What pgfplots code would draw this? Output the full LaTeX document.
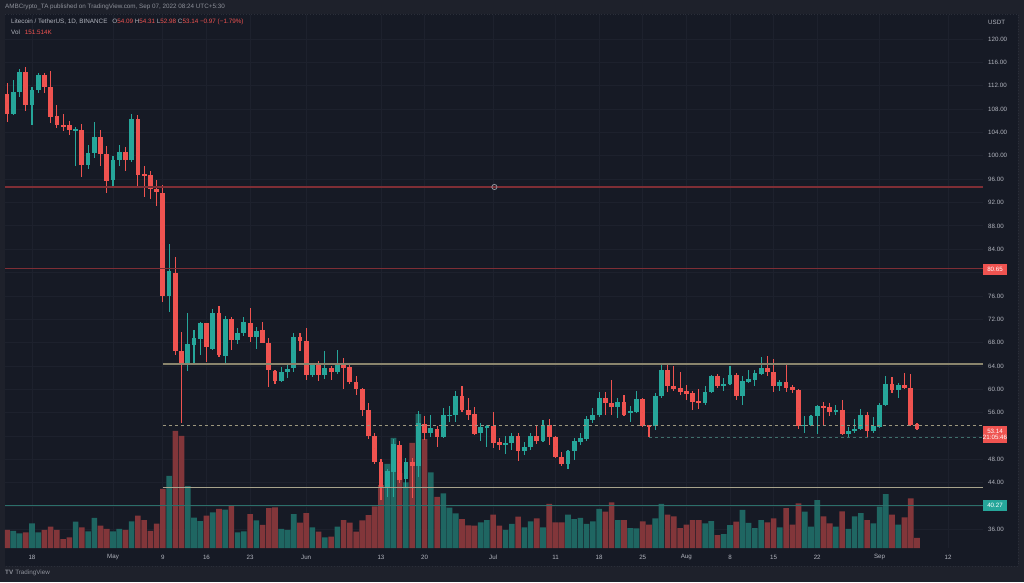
\documentclass[border=0pt]{standalone}
\usepackage{pgfplots}
\pgfplotsset{compat=1.18}
\usepackage{pgfplotstable}
\usepackage{fontspec}
\setmainfont{Liberation Sans}

\definecolor{outer}{HTML}{1E212B}
\definecolor{chartbg}{HTML}{161A25}
\definecolor{gridc}{HTML}{1D212D}
\definecolor{txt}{HTML}{B2B5BE}
\definecolor{txtdim}{HTML}{8E919A}
\definecolor{up}{HTML}{26A69A}
\definecolor{dn}{HTML}{EF5350}
\definecolor{volup}{HTML}{1F6662}
\definecolor{voldn}{HTML}{82363A}
\definecolor{lnred}{HTML}{7E2E35}
\definecolor{lnolive}{HTML}{8A856D}
\definecolor{lndash}{HTML}{9C977E}
\definecolor{lnbeige}{HTML}{A7A38C}
\definecolor{lnteal}{HTML}{2C6F6A}
\definecolor{lntealdash}{HTML}{3F6F6B}
\definecolor{sep}{HTML}{2A2E39}

% day index d: 0 = Apr 18; o h l c in USDT, v = volume in K
\pgfplotstableread{
d o h l c v
-4 110.6 112.5 105.8 107.2 273
-3 107.2 112.9 107.0 111.0 258
-2 110.9 114.9 110.1 114.3 223
-1 114.3 115.2 107.7 108.7 238
0 108.7 111.8 105.2 111.3 374
1 111.3 114.1 110.7 113.8 238
2 113.8 114.1 110.7 111.8 273
3 111.8 114.5 105.6 106.7 323
4 106.8 108.7 104.8 105.3 273
5 105.3 107.2 104.3 105.0 136
6 105.2 106.0 103.5 104.5 162
7 104.4 105.0 98.3 104.6 398
8 104.5 105.4 96.3 98.4 314
9 98.5 101.8 97.7 100.5 253
10 100.5 105.8 99.7 103.3 455
11 103.3 104.4 98.3 100.3 338
12 100.3 101.7 93.6 95.7 288
13 95.9 100.0 94.4 99.3 253
14 99.3 101.8 98.3 100.7 288
15 100.7 101.5 97.4 99.3 273
16 99.2 107.2 99.0 106.3 405
17 106.3 106.9 94.7 96.7 489
18 96.8 98.3 92.9 96.6 424
19 96.7 97.4 92.6 94.3 258
20 94.3 95.9 91.4 93.8 371
21 93.7 95.0 75.0 76.0 894
22 76.0 84.9 73.3 80.2 1091
23 80.0 82.6 65.9 66.5 1773
24 66.6 69.8 54.3 64.4 1697
25 64.2 73.0 63.1 67.8 939
26 67.6 70.2 64.2 68.8 459
27 68.6 71.6 65.9 71.4 409
28 71.3 71.4 64.7 67.2 489
29 67.0 73.7 66.8 73.0 541
30 73.0 74.3 65.6 65.9 591
31 65.8 72.6 64.6 72.0 580
32 72.0 72.4 66.7 68.5 641
33 68.5 70.5 67.8 69.6 238
34 69.6 72.4 69.1 71.5 253
35 71.4 74.0 68.2 68.9 515
36 68.9 70.7 66.9 70.0 417
37 70.2 71.5 67.9 68.0 351
38 68.0 68.8 60.4 63.3 606
39 63.2 63.4 60.9 61.4 617
40 61.5 63.9 61.2 62.9 288
41 62.9 64.2 61.9 63.5 273
42 63.6 69.6 63.0 68.9 515
43 68.9 69.6 66.6 68.3 383
44 68.3 70.5 61.6 62.5 530
45 62.5 64.6 62.1 64.3 314
46 64.3 64.8 61.4 62.5 247
47 62.5 66.5 61.8 63.6 162
48 63.7 64.0 61.6 63.0 171
49 62.9 66.7 62.7 64.4 323
50 64.4 65.4 60.0 63.6 424
51 63.8 64.3 61.0 61.2 386
52 61.3 62.3 59.0 60.1 250
53 60.1 60.2 55.4 56.5 417
54 56.5 57.6 51.5 52.0 500
55 52.0 52.5 47.3 47.6 629
56 47.6 48.0 41.1 43.3 954
57 43.3 46.3 41.6 46.1 1273
58 45.9 51.5 41.6 50.7 1667
59 50.5 51.2 43.9 44.5 1136
60 44.6 48.2 43.3 47.5 995
61 47.5 48.2 41.4 46.9 1591
62 46.9 56.3 45.0 54.2 2030
63 54.1 55.5 51.3 52.6 1651
64 52.6 55.6 51.9 53.4 1147
65 53.3 53.7 50.2 51.9 773
66 51.9 56.8 51.7 55.6 829
67 55.5 57.2 54.5 55.7 611
68 55.7 59.7 54.5 58.8 526
69 58.8 60.5 56.2 56.4 436
70 56.5 58.6 54.8 55.7 341
71 55.8 57.0 52.2 52.4 338
72 52.5 54.3 51.2 53.5 389
73 53.5 53.9 50.1 53.7 424
74 53.7 56.2 50.0 50.9 504
75 51.0 51.6 49.6 50.4 338
76 50.4 52.0 48.9 50.8 273
77 50.8 52.5 49.6 52.1 364
78 52.1 52.5 47.8 49.5 474
79 49.5 51.0 48.8 50.2 314
80 50.2 52.6 49.6 52.0 405
81 52.0 53.9 50.7 51.2 450
82 51.2 54.8 51.0 53.9 314
83 53.9 54.9 50.5 51.9 667
84 51.9 52.1 48.3 48.5 389
85 48.5 49.3 46.9 47.2 389
86 47.2 49.6 46.4 49.5 504
87 49.5 51.6 47.9 51.2 439
88 51.0 52.5 50.5 51.6 455
89 51.5 55.4 51.2 54.9 364
90 54.8 56.8 54.3 55.6 405
91 55.6 59.5 55.3 58.5 591
92 58.5 59.5 55.6 57.7 550
93 57.7 61.6 55.6 56.9 692
94 56.9 58.6 55.1 57.9 424
95 57.9 59.0 55.4 55.6 424
96 55.9 57.2 54.5 56.3 303
97 56.2 59.7 56.0 58.3 298
98 58.3 58.5 53.6 53.8 405
99 53.85 53.9 51.8 53.7 353
100 53.8 59.3 53.0 58.9 450
101 58.8 64.2 58.5 63.3 667
102 63.3 64.4 59.6 60.5 504
103 60.6 64.0 59.8 60.1 480
104 60.3 63.0 59.1 59.5 303
105 59.7 60.8 58.1 59.2 353
106 59.3 59.8 56.5 57.9 424
107 58.0 60.0 56.6 57.6 424
108 57.6 60.6 57.4 59.5 374
109 59.5 62.5 59.3 62.3 409
110 62.3 62.6 60.3 60.6 197
111 60.6 61.9 59.8 61.0 212
112 60.9 64.0 60.7 62.5 348
113 62.5 62.8 58.1 58.9 398
114 58.9 62.3 57.3 61.4 576
115 61.3 63.3 61.1 61.7 379
116 61.6 63.4 60.6 62.8 303
117 62.6 65.6 62.4 63.7 424
118 63.7 65.7 62.3 62.9 389
119 62.9 65.2 59.6 60.5 450
120 60.5 61.6 59.8 61.2 314
121 61.2 64.6 59.5 60.3 606
122 60.4 60.7 59.4 59.9 353
123 59.9 60.0 53.3 53.7 677
124 53.75 55.4 52.6 53.9 550
125 53.9 55.6 53.7 55.4 323
126 55.4 57.3 52.3 57.2 727
127 57.2 57.8 53.9 56.9 480
128 56.9 57.6 55.4 56.2 374
129 56.2 57.3 55.6 56.5 323
130 56.5 58.2 52.2 52.4 556
131 52.4 53.6 51.6 52.9 288
132 52.8 55.0 52.6 53.3 480
133 53.2 56.6 53.0 55.6 530
134 55.6 56.2 51.8 52.8 424
135 52.8 55.3 52.6 53.7 374
136 53.6 57.6 53.4 57.4 626
137 57.4 62.3 57.2 60.9 818
138 60.9 62.1 59.4 59.9 504
139 59.9 61.1 58.6 60.8 353
140 60.8 62.8 60.0 60.2 465
141 60.2 62.6 53.7 53.9 753
142 54.09 54.31 52.98 53.14 152
}\candles

\pgfplotsset{
  tvpane/.style={at={(5pt,34pt)}, anchor=south west, scale only axis,
    width=978pt, height=533pt, xmin=-4.33, xmax=152.6},
  upsel/.style={restrict expr to domain={\thisrow{c}-\thisrow{o}}{0:100}},
  dnsel/.style={restrict expr to domain={\thisrow{c}-\thisrow{o}}{-100:-0.0001}},
  nomark/.style={only marks, mark=*, mark size=0pt, mark options={draw=none, fill=none}},
}
\newcommand{\tvfont}{\fontsize{6.2}{7.2}\selectfont}
\newcommand{\hdfont}{\fontsize{6.3}{7.2}\selectfont}

\begin{document}
\begin{tikzpicture}
\fill[outer] (0,0) rectangle (1024pt,582pt);
\fill[chartbg] (5pt,16pt) rectangle (1018pt,568pt);
\draw[sep, dotted, line width=0.8pt] (5pt,568pt) -- (1018pt,568pt) -- (1018pt,16pt) -- (5pt,16pt);

% grid and tick labels (40, 52 and 80 sit under the price tags)
\begin{axis}[tvpane, ymin=32.84, ymax=124.11,
  axis line style={draw=none}, major tick length=0pt,
  grid=major, grid style={gridc, line width=0.8pt},
  ytick={36,44,48,56,60,64,68,72,76,84,88,92,96,100,104,108,112,116,120},
  extra y ticks={40,52,80}, extra y tick labels={},
  extra y tick style={grid=major},
  yticklabel pos=right,
  xtick={0,13,21,28,35,44,56,63,74,84,91,98,105,112,119,126,136,147},
  xticklabels={18,May,9,16,23,Jun,13,20,Jul,11,18,25,Aug,8,15,22,Sep,12},
  ticklabel style={font=\tvfont, text=txt},
  yticklabel style={anchor=west, xshift=5pt, inner sep=0pt,
    /pgf/number format/fixed, /pgf/number format/fixed zerofill,
    /pgf/number format/precision=2, /pgf/number format/assume math mode=true},
  xticklabel style={anchor=center, yshift=-9pt, inner sep=0pt}]
\end{axis}

% volume
\begin{axis}[tvpane, hide axis, ymin=0, ymax=8075]
\addplot[ybar, bar width=5.6pt, draw=none, fill=volup, upsel] table[x=d, y=v] {\candles};
\addplot[ybar, bar width=5.6pt, draw=none, fill=voldn, dnsel] table[x=d, y=v] {\candles};
\end{axis}

% candles and drawn levels
\begin{axis}[tvpane, hide axis, ymin=32.84, ymax=124.11]
\addplot[nomark, upsel, error bars/.cd, y dir=both, y explicit, error mark=none,
  error bar style={line width=1.1pt, draw=up}]
  table[x=d, y expr=0.5*(\thisrow{h}+\thisrow{l}),
    y error plus expr=0.5*(\thisrow{h}-\thisrow{l}), y error minus expr=0.5*(\thisrow{h}-\thisrow{l})] {\candles};
\addplot[nomark, dnsel, error bars/.cd, y dir=both, y explicit, error mark=none,
  error bar style={line width=1.1pt, draw=dn}]
  table[x=d, y expr=0.5*(\thisrow{h}+\thisrow{l}),
    y error plus expr=0.5*(\thisrow{h}-\thisrow{l}), y error minus expr=0.5*(\thisrow{h}-\thisrow{l})] {\candles};
\addplot[nomark, upsel, error bars/.cd, y dir=both, y explicit, error mark=none,
  error bar style={line width=4.8pt, draw=up}]
  table[x=d, y expr=0.5*(\thisrow{o}+\thisrow{c}),
    y error plus expr=0.5*abs(\thisrow{c}-\thisrow{o}), y error minus expr=0.5*abs(\thisrow{c}-\thisrow{o})] {\candles};
\addplot[nomark, dnsel, error bars/.cd, y dir=both, y explicit, error mark=none,
  error bar style={line width=4.8pt, draw=dn}]
  table[x=d, y expr=0.5*(\thisrow{o}+\thisrow{c}),
    y error plus expr=0.5*abs(\thisrow{c}-\thisrow{o}), y error minus expr=0.5*abs(\thisrow{c}-\thisrow{o})] {\candles};

\addplot[lnred, line width=1.6pt] coordinates {(-4.33,94.66) (152.6,94.66)};
\addplot[lnred, line width=1.1pt] coordinates {(-4.33,80.65) (152.6,80.65)};
\addplot[lnolive, line width=2pt] coordinates {(21,64.35) (152.6,64.35)};
\addplot[lndash, line width=1.2pt, dash pattern=on 3pt off 3pt] coordinates {(21,53.78) (152.6,53.78)};
\addplot[lntealdash, line width=1pt, dash pattern=on 3pt off 3pt] coordinates {(99,51.8) (152.6,51.8)};
\addplot[lnbeige, line width=1.3pt] coordinates {(21,43.17) (152.6,43.17)};
\addplot[lnteal, line width=1.3pt] coordinates {(-4.33,40.1) (152.6,40.1)};
\addplot[only marks, mark=o, mark size=2.6pt, mark options={draw=txtdim, fill=chartbg, line width=0.8pt}]
  coordinates {(74.2,94.66)};
\end{axis}

% price tags on the scale
\node[fill=dn, text=white, font=\tvfont, minimum width=24pt, minimum height=11pt, inner sep=0pt] at (995pt,313pt) {80.65};
\node[fill=dn, text=white, font=\tvfont, minimum width=24pt, minimum height=17pt, inner sep=0pt, align=center] at (995pt,147.5pt) {53.14\\[-1pt]21:05:46};
\node[fill=up, text=white, font=\tvfont, minimum width=24pt, minimum height=11pt, inner sep=0pt] at (995pt,76.5pt) {40.27};
\node[anchor=west, text=txt, font=\tvfont, inner sep=0pt] at (988pt,560pt) {USDT};

% header
\node[anchor=west, text=txtdim, font=\hdfont, inner sep=0pt] at (5pt,575pt)
  {AMBCrypto\_TA published on TradingView.com, Sep 07, 2022 08:24 UTC+5:30};
\node[anchor=west, text=txt, font=\hdfont, inner sep=0pt] at (11pt,560pt)
  {Litecoin / TetherUS, 1D, BINANCE\hspace{5pt}O\textcolor{dn}{54.09} H\textcolor{dn}{54.31} L\textcolor{dn}{52.98} C\textcolor{dn}{53.14} \textcolor{dn}{−0.97 (−1.79\%)}};
\node[anchor=west, text=txt, font=\hdfont, inner sep=0pt] at (11pt,550pt)
  {Vol\hspace{5pt}\textcolor{dn}{151.514K}};

% footer logo
\node[anchor=west, text=txtdim, font=\hdfont, inner sep=0pt] at (5pt,9pt)
  {\textbf{TV}\hspace{2pt}TradingView};

\pgfresetboundingbox
\useasboundingbox (0,0) rectangle (1024pt,582pt);
\end{tikzpicture}
\end{document}
